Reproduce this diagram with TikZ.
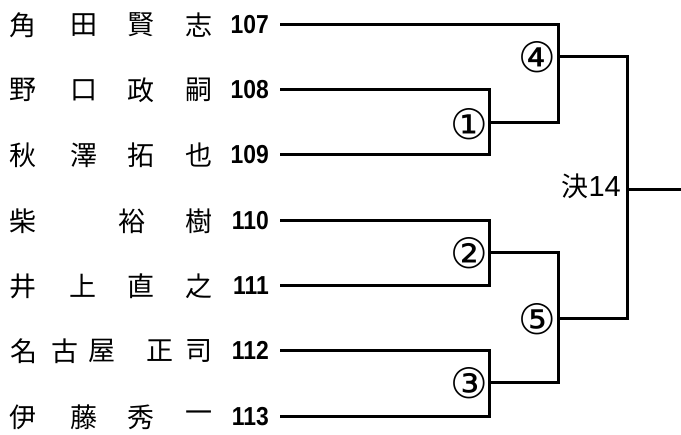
\documentclass[tikz,border=0pt]{standalone}
\usepackage{fontspec}
\setmainfont{Liberation Sans}
\newfontfamily\jp{Noto Sans CJK JP}
\newfontfamily\circf{DejaVu Sans}
\newfontfamily\numf[FakeStretch=0.88]{Liberation Sans}
\begin{document}
\begin{tikzpicture}[x=1pt,y=-1pt,
  namech/.style={anchor=center,inner sep=0pt,font=\jp\fontsize{27}{27}\selectfont},
  numlab/.style={anchor=base east,inner sep=0pt,font=\numf\bfseries\fontsize{26}{26}\selectfont},
  circlab/.style={anchor=center,inner sep=0pt,font=\circf\fontsize{42}{42}\selectfont},
  wire/.style={line width=3pt}]
\useasboundingbox (0,0) rectangle (681,435);
% names
\foreach \ch/\xx [count=\i] in {角/23,田/84,賢/141,志/199} \node[namech] (a\i) at (\xx,25) {\ch};
\foreach \ch/\xx [count=\i] in {野/23,口/84,政/141,嗣/199} \node[namech] (b\i) at (\xx,90) {\ch};
\foreach \ch/\xx [count=\i] in {秋/23,澤/84,拓/141,也/199} \node[namech] (c\i) at (\xx,155) {\ch};
\foreach \ch/\xx [count=\i] in {柴/23,裕/132,樹/199} \node[namech] (d\i) at (\xx,221) {\ch};
\foreach \ch/\xx [count=\i] in {井/23,上/83,直/141,之/199} \node[namech] (e\i) at (\xx,286) {\ch};
\foreach \ch/\xx [count=\i] in {名/24,古/65,屋/102,正/160,司/199} \node[namech] (f\i) at (\xx,351) {\ch};
\foreach \ch/\xx [count=\i] in {伊/23,藤/84,秀/141,一/199} \node[namech] (g\i) at (\xx,417) {\ch};
% numbers
\node[numlab] (n107) at (269,34) {107};
\node[numlab] (n108) at (269,99) {108};
\node[numlab] (n109) at (269,164) {109};
\node[numlab] (n110) at (269,230) {110};
\node[numlab] (n111) at (269,295) {111};
\node[numlab] (n112) at (269,360) {112};
\node[numlab] (n113) at (269,426) {113};
% wire starts
\coordinate (s1) at (280,25);
\coordinate (s2) at (280,90);
\coordinate (s3) at (280,155);
\coordinate (s4) at (280,221);
\coordinate (s5) at (280,286);
\coordinate (s6) at (280,351);
\coordinate (s7) at (280,417);
% junctions
\coordinate (m1) at (489,123);
\coordinate (m2) at (489,253);
\coordinate (m3) at (489,383);
\coordinate (m4) at (558,57);
\coordinate (m5) at (558,319);
\coordinate (fin) at (627,190);
\coordinate (out) at (681,190);
% bracket
\draw[wire] (s2) -| (m1) |- (s3);
\draw[wire] (s4) -| (m2) |- (s5);
\draw[wire] (s6) -| (m3) |- (s7);
\draw[wire] (s1) -| (m4) |- (m1);
\draw[wire] (m2) -| (m5) |- (m3);
\draw[wire] (m4) -| (fin) |- (m5);
\draw[wire] (fin) -- (out);
% match labels
\node[circlab] (l1) at (469,124) {①};
\node[circlab] (l2) at (469,253) {②};
\node[circlab] (l3) at (469,383) {③};
\node[circlab] (l4) at (537,57) {④};
\node[circlab] (l5) at (537,319) {⑤};
\node[anchor=base east,inner sep=0pt] (final) at (621,197) {{\jp\fontsize{27}{27}\selectfont 決}{\fontsize{29}{29}\selectfont 14}};
\end{tikzpicture}
\end{document}
